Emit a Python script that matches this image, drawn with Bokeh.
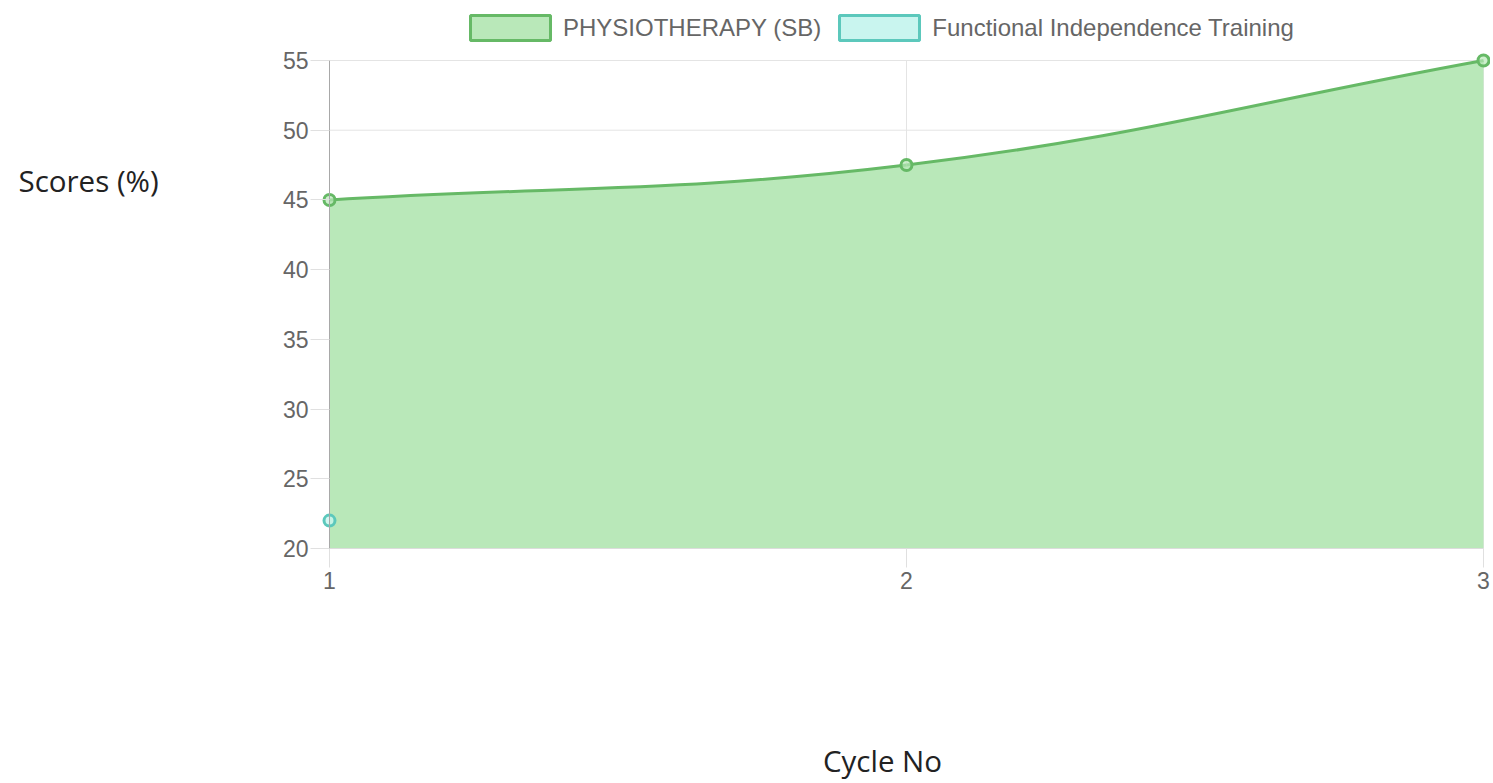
import math
import numpy as np
from bokeh.plotting import figure
from bokeh.models import Range1d, Label, Legend, LegendItem, FixedTicker, LinearAxis
from bokeh.embed import file_html
from bokeh.resources import INLINE

# ---- data ----
cycles = [1, 2, 3]
physio_scores = [45, 47.5, 55]
fit_cycles = [1]
fit_scores = [22]
y_ticks = [20, 25, 30, 35, 40, 45, 50, 55]
x_ticks = [1, 2, 3]
series_names = ["PHYSIOTHERAPY (SB)", "Functional Independence Training"]
y_title = "Scores (%)"
x_title = "Cycle No"

# ---- layout (pixel positions of the plotting area inside the canvas) ----
W, H = 1490, 780
PL, PR, PT, PB = 329, 1483, 60, 548
X0, X1 = 1, 3
Y0, Y1 = 20, 55
SX = (PR - PL) / (X1 - X0)
SY = (PB - PT) / (Y1 - Y0)

GREEN_LINE = "#66b966"
GREEN_FILL = "#b9e8b9"
TEAL_LINE = "#5cc8bc"
TEAL_FILL = "#c9f5ef"
GRID = "#e4e4e4"


def spline_controls(xs, ys, t=0.4):
    """Chart.js style spline control points (computed in pixel space)."""
    px = [(x - X0) * SX for x in xs]
    py = [(y - Y0) * SY for y in ys]
    n = len(xs)
    prev_cp, next_cp = [], []
    for i in range(n):
        a = max(i - 1, 0)
        b = min(i + 1, n - 1)
        d01 = math.hypot(px[i] - px[a], py[i] - py[a])
        d12 = math.hypot(px[b] - px[i], py[b] - py[i])
        tot = d01 + d12
        s01 = d01 / tot if tot else 0
        s12 = d12 / tot if tot else 0
        fa, fb = t * s01, t * s12
        dx, dy = px[b] - px[a], py[b] - py[a]
        prev_cp.append((px[i] - fa * dx, py[i] - fa * dy))
        next_cp.append((px[i] + fb * dx, py[i] + fb * dy))
    to_data = lambda p: (p[0] / SX + X0, p[1] / SY + Y0)
    return [to_data(p) for p in prev_cp], [to_data(p) for p in next_cp]


prev_cp, next_cp = spline_controls(cycles, physio_scores)
bx0 = cycles[:-1]
by0 = physio_scores[:-1]
bx1 = cycles[1:]
by1 = physio_scores[1:]
cx0 = [next_cp[i][0] for i in range(len(cycles) - 1)]
cy0 = [next_cp[i][1] for i in range(len(cycles) - 1)]
cx1 = [prev_cp[i + 1][0] for i in range(len(cycles) - 1)]
cy1 = [prev_cp[i + 1][1] for i in range(len(cycles) - 1)]

# sampled curve for the filled area
tt = np.linspace(0, 1, 80)
curve_x, curve_y = [], []
for i in range(len(bx0)):
    mt = 1 - tt
    xs = mt**3 * bx0[i] + 3 * mt**2 * tt * cx0[i] + 3 * mt * tt**2 * cx1[i] + tt**3 * bx1[i]
    ys = mt**3 * by0[i] + 3 * mt**2 * tt * cy0[i] + 3 * mt * tt**2 * cy1[i] + tt**3 * by1[i]
    curve_x.extend(xs.tolist())
    curve_y.extend(ys.tolist())

# ranges chosen so the data area lands at the plotting-area pixels, frame = whole canvas
x_range = Range1d(X0 - PL / SX, X1 + (W - PR) / SX)
y_range = Range1d(Y0 - (H - PB) / SY, Y1 + PT / SY)

p = figure(width=W, height=H, output_backend="svg", toolbar_location=None,
           x_range=x_range, y_range=y_range, x_axis_location=None, y_axis_location=None,
           min_border=0)
p.outline_line_color = None
p.background_fill_color = "white"
p.xgrid.visible = False
p.ygrid.visible = False

# grid lines limited to the plotting area
p.segment(x0=[X0] * len(y_ticks), x1=[X1] * len(y_ticks), y0=y_ticks, y1=y_ticks,
          line_color=GRID, line_width=1)
p.segment(x0=x_ticks, x1=x_ticks, y0=[Y0] * len(x_ticks), y1=[Y1] * len(x_ticks),
          line_color=GRID, line_width=1)

# axes at fixed data locations
yax = LinearAxis(fixed_location=X0, bounds=(Y0, Y1), ticker=FixedTicker(ticks=y_ticks))
xax = LinearAxis(fixed_location=Y0, bounds=(X0, X1), ticker=FixedTicker(ticks=x_ticks))
for ax in (xax, yax):
    ax.major_label_text_font = "Liberation Sans"
    ax.major_label_text_font_size = "23px"
    ax.major_label_text_color = "#666666"
    ax.minor_tick_line_color = None
    ax.major_tick_in = 0
    ax.major_tick_out = 19
    ax.major_tick_line_color = "#e0e0e0"
yax.axis_line_color = "#a8a8a8"
xax.axis_line_color = "#dcdcdc"
yax.major_label_standoff = 2
xax.major_label_standoff = 4

# area and line
p.varea(x=curve_x, y1=[Y0] * len(curve_x), y2=curve_y, fill_color=GREEN_FILL, fill_alpha=1.0)
p.add_layout(yax, "left")
p.add_layout(xax, "below")
p.bezier(x0=bx0, y0=by0, x1=bx1, y1=by1, cx0=cx0, cy0=cy0, cx1=cx1, cy1=cy1,
         line_color=GREEN_LINE, line_width=3)
p.scatter(cycles, physio_scores, size=11, line_width=3, line_color=GREEN_LINE,
          fill_color=GREEN_FILL, fill_alpha=0.7)
p.scatter(fit_cycles, fit_scores, size=11, line_width=3, line_color=TEAL_LINE,
          fill_color=TEAL_FILL, fill_alpha=0.8)

# legend proxies (hidden renderers, only used for the legend swatches)
r1 = p.quad(left=cycles[:1], right=cycles[:1], top=physio_scores[:1], bottom=physio_scores[:1],
            fill_color=GREEN_FILL, line_color=GREEN_LINE, line_width=3, visible=False)
r2 = p.quad(left=fit_cycles[:1], right=fit_cycles[:1], top=fit_scores[:1], bottom=fit_scores[:1],
            fill_color=TEAL_FILL, line_color=TEAL_LINE, line_width=3, visible=False)
legend = Legend(items=[LegendItem(label=series_names[0], renderers=[r1]),
                       LegendItem(label=series_names[1], renderers=[r2])],
                orientation="horizontal", location=(460, H - 43),
                glyph_width=100, glyph_height=31, label_standoff=3, spacing=8,
                padding=0, margin=0, border_line_color=None, background_fill_alpha=0,
                inactive_fill_alpha=0,
                label_text_font="Liberation Sans", label_text_font_size="24px",
                label_text_color="#666666", label_text_baseline="middle")
p.add_layout(legend)

p.add_layout(Label(x=18, y=H - 180, x_units="screen", y_units="screen", text=y_title,
                   text_baseline="middle", text_align="left", text_font="Open Sans",
                   text_font_size="29.5px", text_color="#222222"))
p.add_layout(Label(x=882, y=H - 760, x_units="screen", y_units="screen", text=x_title,
                   text_baseline="middle", text_align="center", text_font="Open Sans",
                   text_font_size="29.5px", text_color="#222222"))

open("out.html", "w").write(file_html(p, INLINE))
